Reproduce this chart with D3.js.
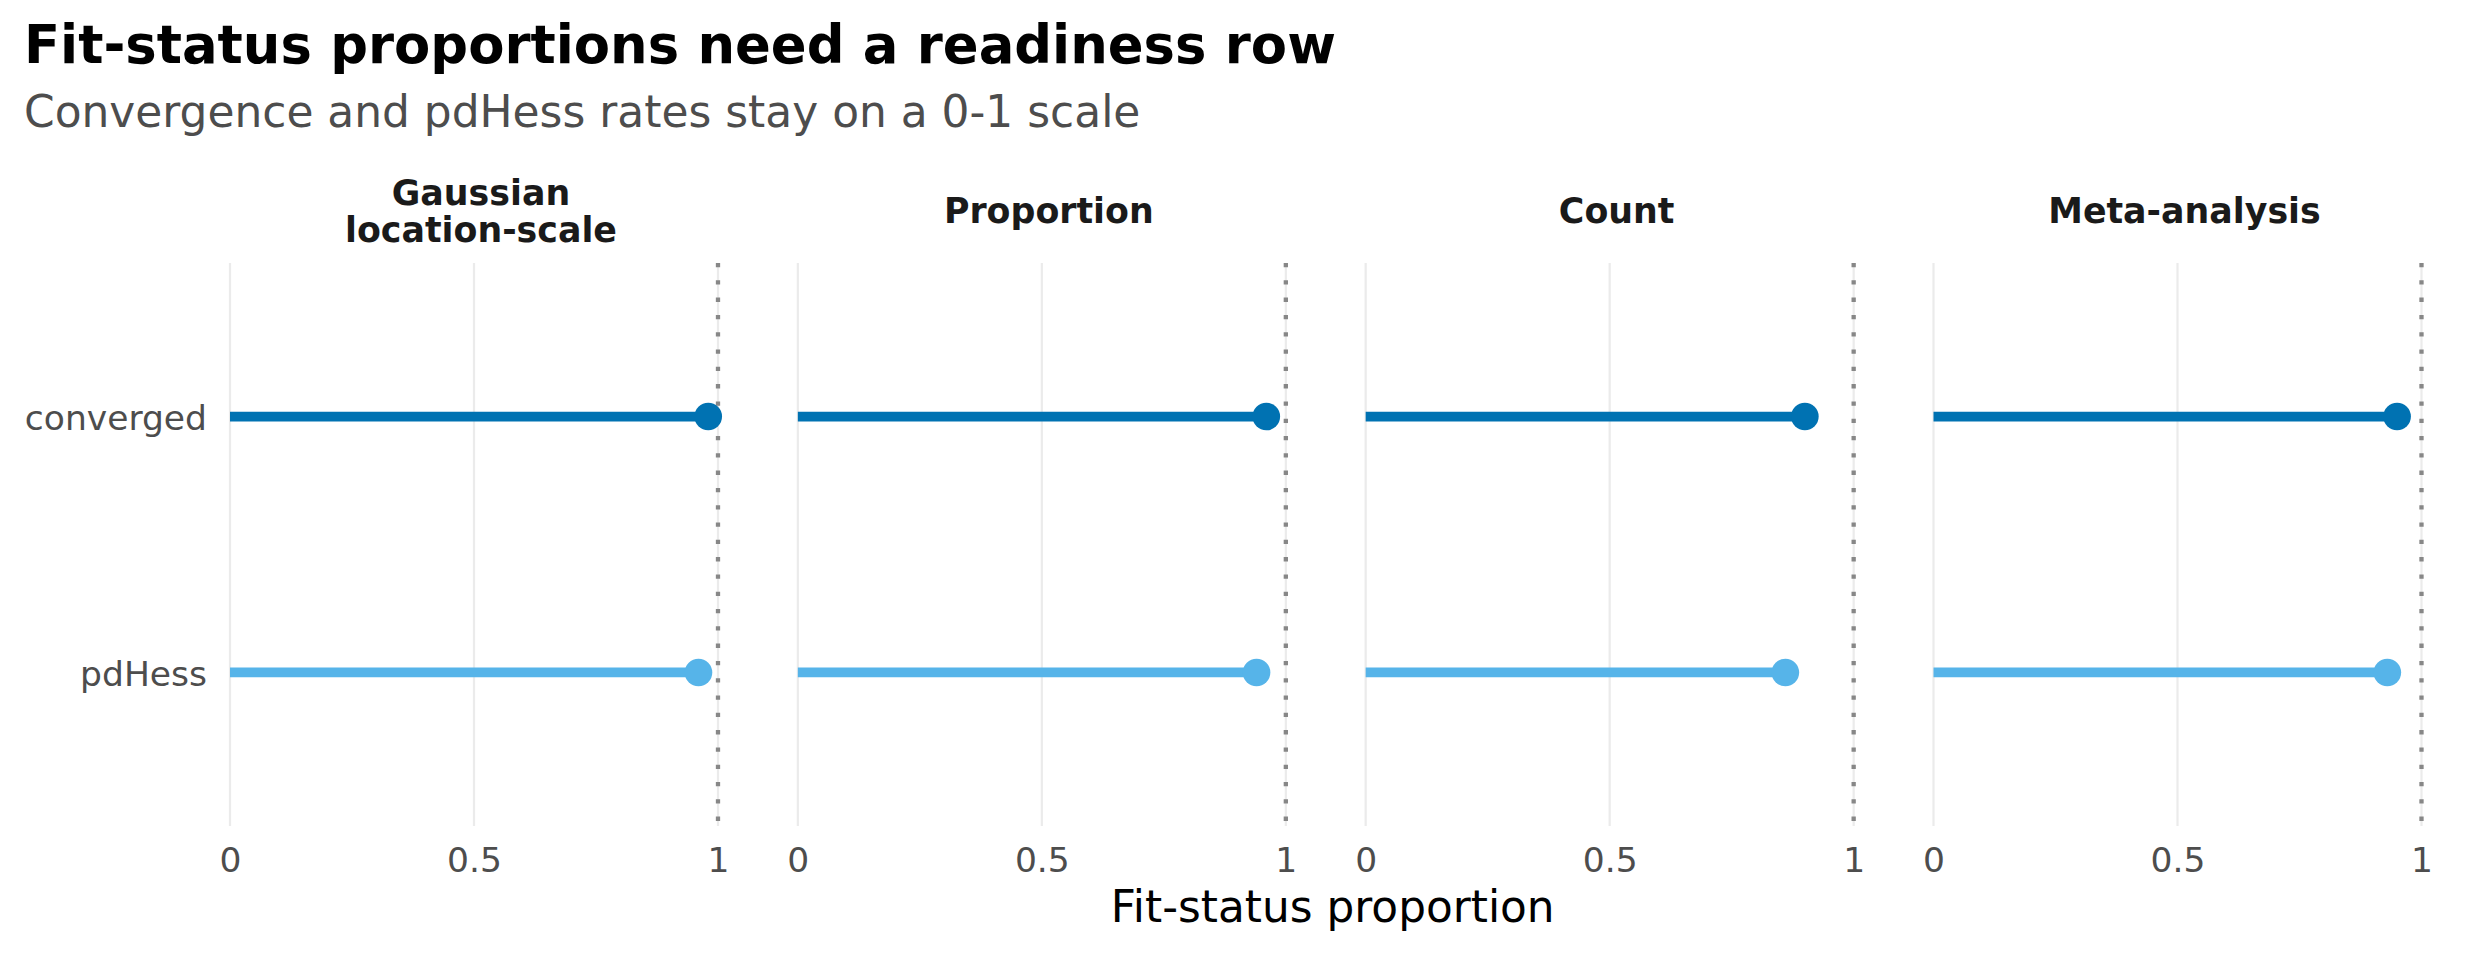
<!DOCTYPE html>
<html>
<head>
<meta charset="utf-8">
<script src="https://cdn.jsdelivr.net/npm/d3@7"></script>
<style>
  html, body { margin: 0; padding: 0; background: #ffffff; }
  svg { display: block; font-family: "DejaVu Sans", sans-serif; }
</style>
</head>
<body>
<svg id="chart" width="2476" height="979"></svg>
<script>
// ---- data ----
const facets = ["Gaussian\nlocation-scale", "Proportion", "Count", "Meta-analysis"];
const statuses = ["converged", "pdHess"];
const convergedRate = [0.98, 0.96, 0.90, 0.95];
const pdHessRate = [0.96, 0.94, 0.86, 0.93];
const xTicks = [0, 0.5, 1];
const xTickLabels = ["0", "0.5", "1"];
const readinessLine = 1;
const statusColors = ["#0072B2", "#56B4E9"];
const titleText = "Fit-status proportions need a readiness row";
const subtitleText = "Convergence and pdHess rates stay on a 0-1 scale";
const xTitleText = "Fit-status proportion";

// ---- layout ----
const W = 2476, H = 979;
const panelTop = 263, panelBottom = 826;
const svg = d3.select("#chart");

const facetScale = d3.scaleBand()
  .domain(facets)
  .range([230, 2421.5])
  .paddingInner(0.1406)
  .paddingOuter(0);

const y = d3.scalePoint()
  .domain(statuses)
  .range([panelTop, panelBottom])
  .padding(0.6);

const color = d3.scaleOrdinal().domain(statuses).range(statusColors);

const seriesByStatus = { converged: convergedRate, pdHess: pdHessRate };

// title / subtitle
svg.append("text")
  .attr("x", 24).attr("y", 63)
  .attr("font-size", 52.8).attr("font-weight", "bold").attr("fill", "#000")
  .text(titleText);
svg.append("text")
  .attr("x", 24).attr("y", 127)
  .attr("font-size", 43.9).attr("fill", "#4D4D4D")
  .text(subtitleText);

facets.forEach((facet, fi) => {
  const x0 = facetScale(facet);
  const x = d3.scaleLinear().domain([0, 1]).range([x0, x0 + facetScale.bandwidth()]);
  const g = svg.append("g");

  // gridlines
  g.selectAll("line.grid").data(xTicks).enter().append("line")
    .attr("class", "grid")
    .attr("x1", d => x(d)).attr("x2", d => x(d))
    .attr("y1", panelTop).attr("y2", panelBottom)
    .attr("stroke", "#EBEBEB").attr("stroke-width", 2.2);

  // readiness reference line
  g.append("line")
    .attr("x1", x(readinessLine)).attr("x2", x(readinessLine))
    .attr("y1", panelTop).attr("y2", panelBottom)
    .attr("stroke", "#878787").attr("stroke-width", 4.3)
    .attr("stroke-dasharray", "4.3,13");

  const rows = statuses.map(s => ({ status: s, value: seriesByStatus[s][fi] }));

  // segments
  g.selectAll("line.seg").data(rows).enter().append("line")
    .attr("class", "seg")
    .attr("x1", x(0)).attr("x2", d => x(d.value))
    .attr("y1", d => y(d.status)).attr("y2", d => y(d.status))
    .attr("stroke", d => color(d.status)).attr("stroke-width", 9.8);

  // points
  g.selectAll("circle.pt").data(rows).enter().append("circle")
    .attr("class", "pt")
    .attr("cx", d => x(d.value)).attr("cy", d => y(d.status))
    .attr("r", 13.8)
    .attr("fill", d => color(d.status));

  // x axis
  const ax = svg.append("g")
    .attr("transform", `translate(0,${panelBottom})`)
    .call(d3.axisBottom(x).tickValues(xTicks).tickFormat((d, i) => xTickLabels[i]).tickSize(0).tickPadding(21.5));
  ax.select(".domain").remove();
  ax.selectAll("text")
    .attr("font-size", 34.5).attr("fill", "#4D4D4D")
    .attr("font-family", "DejaVu Sans");

  // strip label
  const lines = facet.split("\n");
  const cx = x0 + facetScale.bandwidth() / 2 + 7;
  const lineGap = 37;
  const baseY = 223 - (lines.length - 1) * lineGap / 2;
  const st = svg.append("text")
    .attr("text-anchor", "middle")
    .attr("font-size", 34.8).attr("font-weight", "bold").attr("fill", "#1A1A1A");
  lines.forEach((ln, li) => {
    st.append("tspan").attr("x", cx).attr("y", baseY + li * lineGap).text(ln);
  });

  // y axis only on first panel
  if (fi === 0) {
    const ay = svg.append("g")
      .attr("transform", `translate(${x0},0)`)
      .call(d3.axisLeft(y).tickSize(0).tickPadding(23));
    ay.select(".domain").remove();
    ay.selectAll("text")
      .attr("font-size", 34.5).attr("fill", "#4D4D4D")
      .attr("font-family", "DejaVu Sans")
      .attr("dy", "0.38em");
  }
});

// x axis title
svg.append("text")
  .attr("x", (facetScale.range()[0] + facetScale.range()[1]) / 2 + 7)
  .attr("y", 922)
  .attr("text-anchor", "middle")
  .attr("font-size", 43.8).attr("fill", "#000")
  .text(xTitleText);
</script>
</body>
</html>
